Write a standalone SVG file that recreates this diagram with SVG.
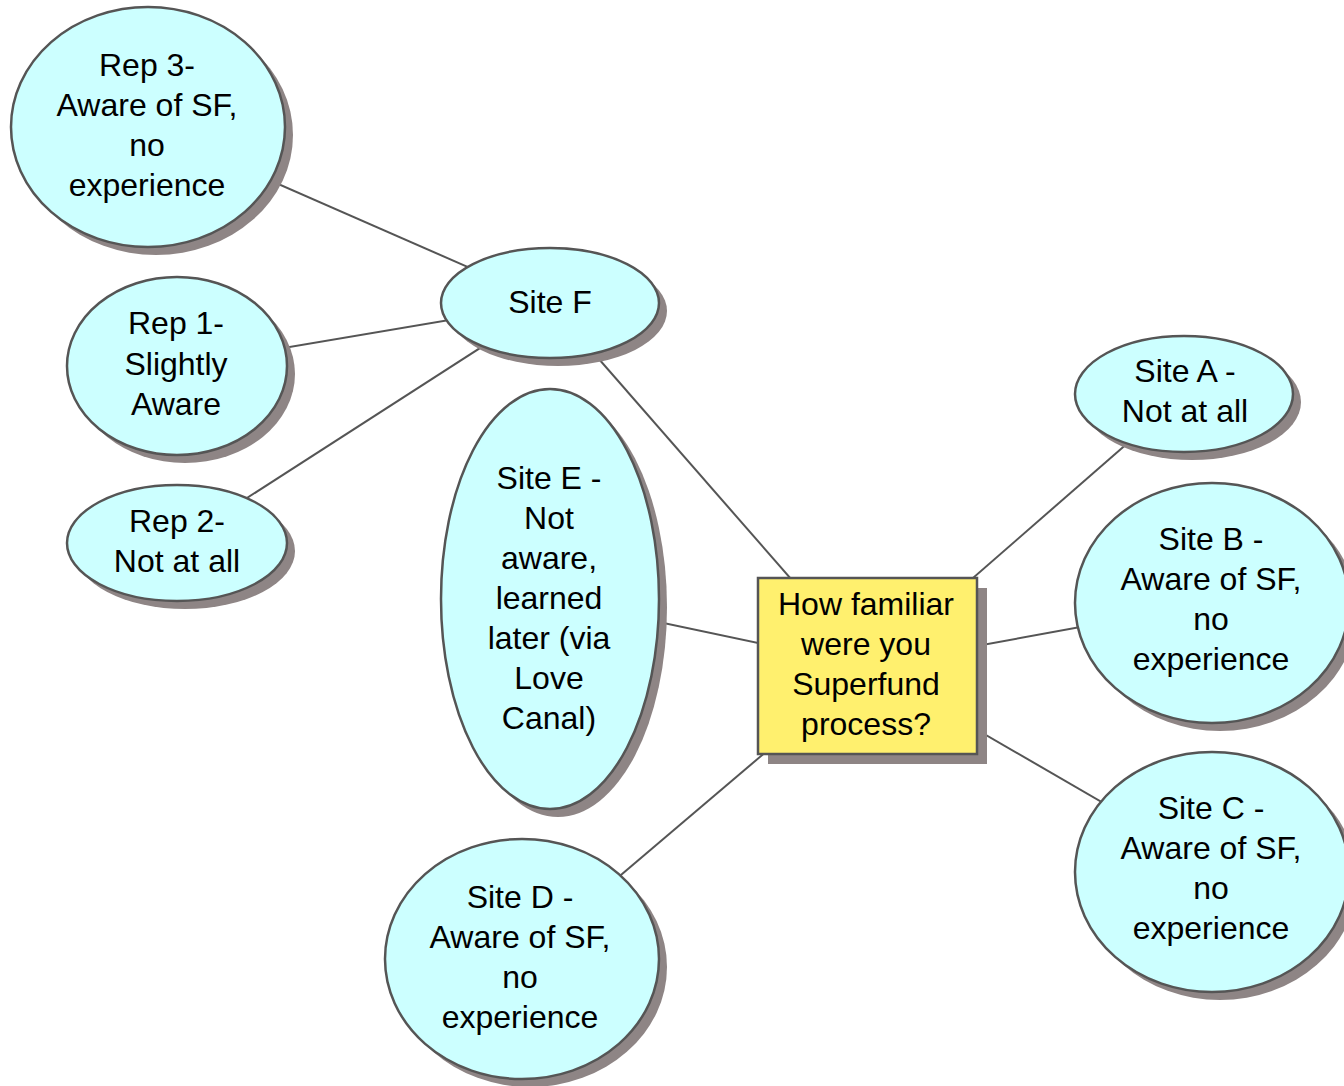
<svg xmlns="http://www.w3.org/2000/svg" width="1344" height="1086" viewBox="0 0 1344 1086">
  <style>
    .edge { stroke: #555555; stroke-width: 2; fill: none; }
    .shadow { fill: #8e8585; }
    .bubble { fill: #ccffff; stroke: #555555; stroke-width: 2.5; }
    .box { fill: #fff06e; stroke: #555555; stroke-width: 2.5; }
    text { font-family: "Liberation Sans", Arial, sans-serif; font-size: 32px; fill: #000000; text-anchor: middle; }
  </style>
  <rect width="1344" height="1086" fill="#ffffff"/>

  <!-- connectors, drawn centre to centre beneath the nodes -->
  <g id="connectors">
    <line class="edge" x1="148" y1="127" x2="550" y2="303"/>
    <line class="edge" x1="177" y1="366" x2="550" y2="303"/>
    <line class="edge" x1="177" y1="543" x2="550" y2="303"/>
    <line class="edge" x1="550" y1="303" x2="867" y2="666"/>
    <line class="edge" x1="550" y1="599" x2="867" y2="666"/>
    <line class="edge" x1="522" y1="959" x2="867" y2="666"/>
    <line class="edge" x1="872" y1="666" x2="1184" y2="394"/>
    <line class="edge" x1="867" y1="666" x2="1212" y2="603"/>
    <line class="edge" x1="867" y1="666" x2="1212" y2="866"/>
  </g>

  <g id="rep3">
    <ellipse class="shadow" cx="156" cy="135" rx="137" ry="120"/>
    <ellipse class="bubble" cx="148" cy="127" rx="137" ry="120"/>
    <text x="147" y="76">Rep 3-</text>
    <text x="147" y="116">Aware of SF,</text>
    <text x="147" y="156">no</text>
    <text x="147" y="196">experience</text>
  </g>

  <g id="rep1">
    <ellipse class="shadow" cx="185" cy="374" rx="110" ry="89"/>
    <ellipse class="bubble" cx="177" cy="366" rx="110" ry="89"/>
    <text x="176" y="334">Rep 1-</text>
    <text x="176" y="375">Slightly</text>
    <text x="176" y="415">Aware</text>
  </g>

  <g id="rep2">
    <ellipse class="shadow" cx="185" cy="551" rx="110" ry="58"/>
    <ellipse class="bubble" cx="177" cy="543" rx="110" ry="58"/>
    <text x="177" y="532">Rep 2-</text>
    <text x="177" y="572">Not at all</text>
  </g>

  <g id="siteF">
    <ellipse class="shadow" cx="558" cy="311" rx="109" ry="55"/>
    <ellipse class="bubble" cx="550" cy="303" rx="109" ry="55"/>
    <text x="550" y="313">Site F</text>
  </g>

  <g id="siteE">
    <ellipse class="shadow" cx="558" cy="607" rx="109" ry="210"/>
    <ellipse class="bubble" cx="550" cy="599" rx="109" ry="210"/>
    <text x="549" y="489">Site E -</text>
    <text x="549" y="529">Not</text>
    <text x="549" y="569">aware,</text>
    <text x="549" y="609">learned</text>
    <text x="549" y="649">later (via</text>
    <text x="549" y="689">Love</text>
    <text x="549" y="729">Canal)</text>
  </g>

  <g id="siteD">
    <ellipse class="shadow" cx="530" cy="967" rx="137" ry="120"/>
    <ellipse class="bubble" cx="522" cy="959" rx="137" ry="120"/>
    <text x="520" y="908">Site D -</text>
    <text x="520" y="948">Aware of SF,</text>
    <text x="520" y="988">no</text>
    <text x="520" y="1028">experience</text>
  </g>

  <g id="question">
    <rect class="shadow" x="768" y="588" width="219" height="176"/>
    <rect class="box" x="758" y="578" width="219" height="176"/>
    <text x="866" y="615">How familiar</text>
    <text x="866" y="655">were you</text>
    <text x="866" y="695">Superfund</text>
    <text x="866" y="735">process?</text>
  </g>

  <g id="siteA">
    <ellipse class="shadow" cx="1192" cy="402" rx="109" ry="58"/>
    <ellipse class="bubble" cx="1184" cy="394" rx="109" ry="58"/>
    <text x="1185" y="382">Site A -</text>
    <text x="1185" y="422">Not at all</text>
  </g>

  <g id="siteB">
    <ellipse class="shadow" cx="1220" cy="611" rx="137" ry="120"/>
    <ellipse class="bubble" cx="1212" cy="603" rx="137" ry="120"/>
    <text x="1211" y="550">Site B -</text>
    <text x="1211" y="590">Aware of SF,</text>
    <text x="1211" y="630">no</text>
    <text x="1211" y="670">experience</text>
  </g>

  <g id="siteC">
    <ellipse class="shadow" cx="1220" cy="880" rx="137" ry="120"/>
    <ellipse class="bubble" cx="1212" cy="872" rx="137" ry="120"/>
    <text x="1211" y="819">Site C -</text>
    <text x="1211" y="859">Aware of SF,</text>
    <text x="1211" y="899">no</text>
    <text x="1211" y="939">experience</text>
  </g>
</svg>
